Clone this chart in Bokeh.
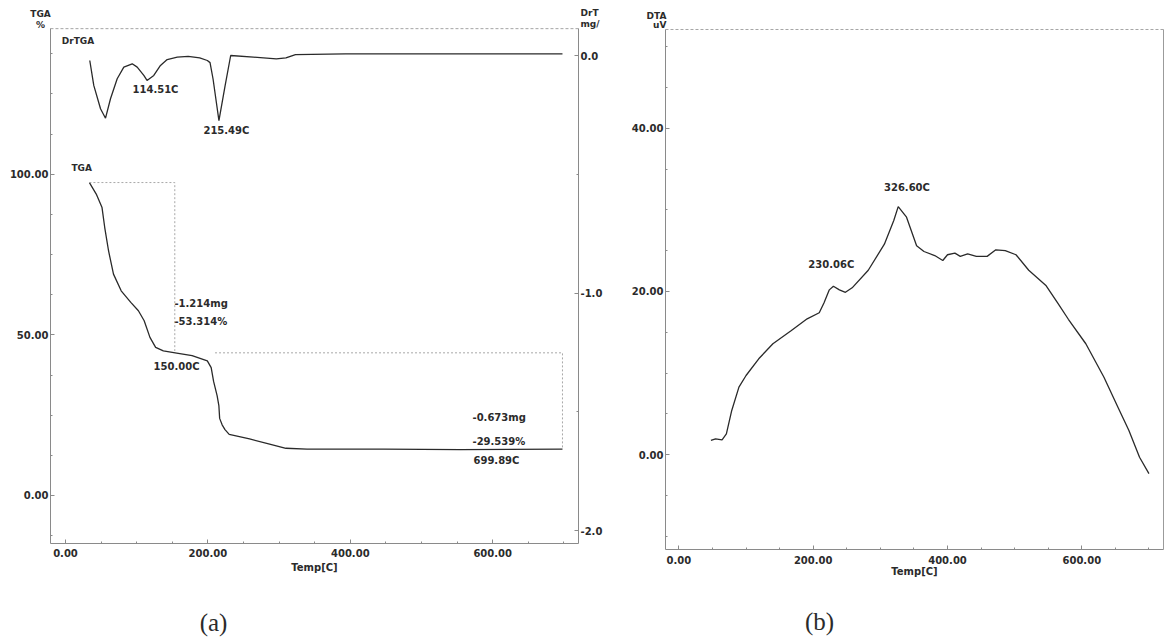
from bokeh.plotting import figure
from bokeh.models import Range1d, LinearAxis, FixedTicker, PrintfTickFormatter, Label
from bokeh.layouts import row
from bokeh.embed import file_html
from bokeh.resources import INLINE

# ---------------- data (a) TGA / DrTGA ----------------
tga_temp = [33.6, 43.2, 51.3, 55.1, 60.5, 67.4, 78.2, 91.7, 102.4, 110.5, 118.6, 126.6,
            137.4, 156.2, 177.8, 199.2, 204.6, 208.0, 213.0, 215.4, 216.5, 220.0, 224.0,
            229.9, 258.5, 285.3, 309.6, 339.2, 446.8, 554.5, 698.0]
tga_pct = [97.4, 93.8, 89.6, 83.4, 76.1, 68.9, 63.7, 60.1, 57.5, 54.4, 49.2, 46.1,
           45.0, 44.3, 43.5, 41.9, 39.8, 35.5, 31.0, 28.0, 24.0, 22.0, 20.5,
           19.0, 17.6, 16.1, 14.7, 14.4, 14.4, 14.3, 14.4]

dr_temp = [34.1, 39.7, 49.2, 56.2, 63.2, 72.6, 81.9, 93.7, 100.7, 110.0, 114.5, 124.0,
           133.4, 142.8, 156.9, 172.3, 188.5, 199.2, 203.0, 207.3, 212.0, 215.5, 224.0,
           232.0, 263.9, 296.1, 309.6, 323.0, 393.0, 698.0]
dr_val = [-0.021, -0.126, -0.224, -0.264, -0.182, -0.098, -0.049, -0.035, -0.049, -0.084,
          -0.105, -0.084, -0.042, -0.017, -0.007, -0.004, -0.010, -0.021, -0.030, -0.100,
          -0.200, -0.274, -0.130, 0.000, -0.007, -0.014, -0.010, 0.004, 0.007, 0.007]

step1_x = [33.6, 153.5, 153.5]
step1_y = [97.4, 97.4, 45.0]
step2_x = [210.0, 698.0, 698.0]
step2_y = [44.4, 44.4, 14.4]

x_ticks_a = [0, 200, 400, 600]
tga_ticks = [0, 50, 100]
dr_ticks = [0.0, -1.0, -2.0]

# ---------------- data (b) DTA ----------------
dta_temp = [47.7, 54.6, 64.3, 70.7, 78.7, 89.4, 100.0, 118.9, 140.0, 167.0, 191.0, 209.0,
            216.0, 224.0, 230.1, 239.0, 248.0, 258.0, 282.0, 306.0, 320.0, 326.6, 339.0,
            354.0, 365.0, 381.0, 393.0, 400.0, 411.0, 419.0, 430.0, 443.0, 459.0, 472.0,
            486.0, 502.0, 521.0, 547.0, 564.0, 580.0, 606.0, 633.0, 654.0, 670.0, 686.0, 700.0]
dta_val = [1.76, 1.96, 1.84, 2.57, 5.43, 8.29, 9.71, 11.76, 13.6, 15.2, 16.65, 17.4,
           18.6, 20.2, 20.65, 20.2, 19.9, 20.45, 22.6, 25.8, 28.7, 30.4, 29.1,
           25.6, 24.9, 24.4, 23.8, 24.5, 24.7, 24.3, 24.6, 24.3, 24.3, 25.1,
           25.0, 24.5, 22.6, 20.7, 18.6, 16.6, 13.6, 9.5, 5.8, 3.0, -0.3, -2.3]

x_ticks_b = [0, 200, 400, 600]
dta_ticks = [0, 20, 40]

# plotting-box limits (data units)
A_X0, A_X1 = -21.1, 720.5
A_Y0, A_Y1 = -14.9, 145.3
A_D0, A_D1 = -2.055, 0.114
B_X0, B_X1 = -20.0, 721.7
B_Y0, B_Y1 = -11.6, 52.09

FONT = "DejaVu Sans"
TXT = "#2b2b2b"
LINE = "#2a2a2a"
AXC = "#8a8a8a"


def style_axis(ax, ticks, minor, fmt, standoff=2):
    ax.ticker = FixedTicker(ticks=ticks, minor_ticks=minor)
    ax.formatter = PrintfTickFormatter(format=fmt)
    ax.axis_line_color = AXC
    ax.axis_line_width = 1
    ax.major_tick_line_color = AXC
    ax.minor_tick_line_color = AXC
    ax.major_tick_in = 4
    ax.major_tick_out = 0
    ax.minor_tick_in = 2
    ax.minor_tick_out = 0
    ax.major_label_text_font = FONT
    ax.major_label_text_font_size = "10px"
    ax.major_label_text_font_style = "bold"
    ax.major_label_text_color = TXT
    ax.major_label_standoff = standoff


def lab(p, x, y, text, align="left", size="10px", font=FONT, style="bold", y_range_name="default"):
    p.add_layout(Label(x=x, y=y, text=text, text_align=align, text_baseline="middle",
                       text_font=font, text_font_size=size, text_font_style=style,
                       text_color=TXT, y_range_name=y_range_name))


def base(width, xr, yr):
    p = figure(width=width, height=638, title=None, toolbar_location=None, output_backend="svg",
               x_range=xr, y_range=yr, min_border=0,
               min_border_left=0, min_border_right=0, min_border_top=0, min_border_bottom=0)
    p.grid.visible = False
    p.outline_line_color = None
    p.background_fill_color = "white"
    p.border_fill_color = "white"
    return p


# ================= panel (a) =================
pa = base(610, Range1d(-91.29, 765.45), Range1d(-44.51, 154.06))
pa.extra_y_ranges = {"dr": Range1d(-2.4547, 0.2316)}
pa.xaxis.visible = False
pa.yaxis.visible = False

ax_b = LinearAxis(fixed_location=A_Y0, bounds=(A_X0, A_X1))
style_axis(ax_b, x_ticks_a, list(range(0, 701, 50)), "%.2f", standoff=6)
pa.add_layout(ax_b, "below")

ax_l = LinearAxis(fixed_location=A_X0, bounds=(A_Y0, A_Y1))
style_axis(ax_l, tga_ticks, [-12.5, 12.5, 25, 37.5, 62.5, 75, 87.5, 112.5, 125, 137.5], "%.2f")
pa.add_layout(ax_l, "left")

ax_r = LinearAxis(y_range_name="dr", fixed_location=A_X1, bounds=(A_D0, A_D1))
style_axis(ax_r, dr_ticks, [-1.5, -0.5], "%.1f")
pa.add_layout(ax_r, "right")

# top frame line
pa.line([A_X0, A_X1], [A_Y1, A_Y1], line_color="#a5a5a5", line_width=1, line_dash="3 2")

pa.line(tga_temp, tga_pct, line_color=LINE, line_width=1.3)
pa.line(dr_temp, dr_val, y_range_name="dr", line_color=LINE, line_width=1.3)
pa.line(step1_x, step1_y, line_color="#a8a8a8", line_width=1, line_dash="2 2")
pa.line(step2_x, step2_y, line_color="#a8a8a8", line_width=1, line_dash="2 2")

lab(pa, -35.1, 150.0, "TGA", align="center", size="9px")
lab(pa, -35.1, 146.3, "%", align="center", size="9px")
lab(pa, 723.3, 150.3, "DrT", size="9px")
lab(pa, 723.3, 146.9, "mg/", size="9px")
lab(pa, -5.2, 141.6, "DrTGA", size="9px")
lab(pa, 126.4, 126.4, "114.51C", align="center")
lab(pa, 226.0, 113.6, "215.49C", align="center")
lab(pa, 8.4, 101.8, "TGA", size="9px")
lab(pa, 153.0, 59.8, "-1.214mg")
lab(pa, 153.0, 54.2, "-53.314%")
lab(pa, 156.0, 40.1, "150.00C", align="center")
lab(pa, 571.6, 24.4, "-0.673mg")
lab(pa, 571.6, 16.9, "-29.539%")
lab(pa, 573.0, 10.9, "699.89C")
lab(pa, 349.7, -22.4, "Temp[C]", align="center")
lab(pa, 207.9, -39.5, "(a)", align="center", size="25px", font="Liberation Serif", style="normal")

# ================= panel (b) =================
pb = base(554, Range1d(-101.86, 723.16), Range1d(-22.5, 55.64))
pb.xaxis.visible = False
pb.yaxis.visible = False

bx_b = LinearAxis(fixed_location=B_Y0, bounds=(B_X0, B_X1))
style_axis(bx_b, x_ticks_b, list(range(0, 701, 50)), "%.2f", standoff=6)
pb.add_layout(bx_b, "below")

bx_l = LinearAxis(fixed_location=B_X0, bounds=(B_Y0, B_Y1))
style_axis(bx_l, dta_ticks, [-10, -5, 5, 10, 15, 25, 30, 35, 45, 50], "%.2f")
pb.add_layout(bx_l, "left")

pb.line([B_X0, B_X1], [B_Y1, B_Y1], line_color="#a5a5a5", line_width=1, line_dash="3 2")
pb.line([B_X1, B_X1], [B_Y0, B_Y1], line_color="#9a9a9a", line_width=1)

pb.line(dta_temp, dta_val, line_color=LINE, line_width=1.3)

lab(pb, -18.5, 53.8, "DTA", align="right", size="9px")
lab(pb, -18.5, 52.6, "uV", align="right", size="9px")
lab(pb, 339.6, 32.7, "326.60C", align="center")
lab(pb, 227.0, 23.3, "230.06C", align="center")
lab(pb, 350.8, -14.3, "Temp[C]", align="center")
lab(pb, 209.4, -20.4, "(b)", align="center", size="25px", font="Liberation Serif", style="normal")

layout = row(pa, pb)
open("out.html", "w").write(file_html(layout, INLINE))
